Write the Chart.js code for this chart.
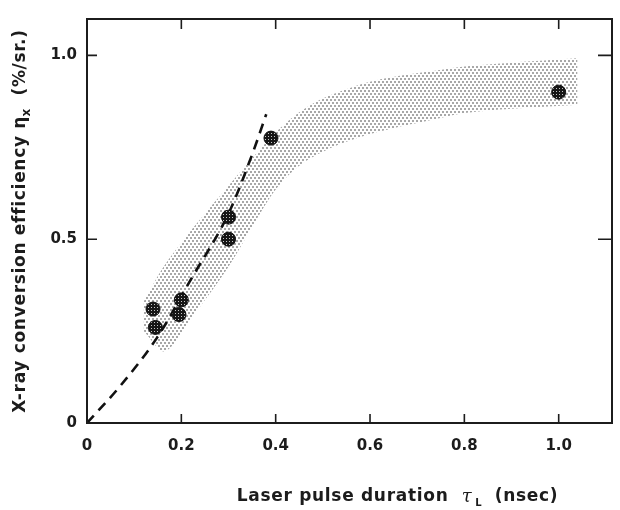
<!DOCTYPE html>
<html>
<head>
<meta charset="utf-8">
<script src="https://cdn.jsdelivr.net/npm/chart.js@4"></script>
<style>
  html, body { margin: 0; padding: 0; background: #fff; }
  #wrap { width: 620px; height: 510px; }
</style>
</head>
<body>
<div id="wrap"><canvas id="chart" width="620" height="510"></canvas></div>
<script>
// tick values and labels
const xTickValues = [0, 0.2, 0.4, 0.6, 0.8, 1.0];
const xTickLabels = ["0", "0.2", "0.4", "0.6", "0.8", "1.0"];
const yTickValues = [0, 0.5, 1.0];
const yTickLabels = ["0", "0.5", "1.0"];

// measured points (nsec, %/sr.)
const pulseDuration = [0.14, 0.145, 0.20, 0.195, 0.30, 0.30, 0.39, 1.0];
const efficiency = [0.31, 0.26, 0.335, 0.295, 0.56, 0.50, 0.775, 0.90];

// dashed curve
const fitX = [0, 0.07, 0.15, 0.22, 0.30, 0.35, 0.38];
const fitY = [0, 0.10, 0.235, 0.39, 0.57, 0.73, 0.84];

// shaded band edges
const bandUpperX = [0.12, 0.16, 0.20, 0.25, 0.30, 0.35, 0.40, 0.45, 0.50, 0.59, 0.66, 0.73, 0.80, 0.90, 1.04];
const bandUpperY = [0.33, 0.42, 0.49, 0.57, 0.645, 0.72, 0.79, 0.845, 0.883, 0.925, 0.944, 0.957, 0.97, 0.98, 0.992];
const bandLowerX = [0.12, 0.165, 0.23, 0.30, 0.36, 0.40, 0.45, 0.52, 0.59, 0.66, 0.73, 0.80, 0.90, 1.04];
const bandLowerY = [0.25, 0.195, 0.30, 0.425, 0.555, 0.635, 0.70, 0.75, 0.782, 0.805, 0.824, 0.843, 0.855, 0.866];

const toXY = (xs, ys) => xs.map((x, i) => ({ x: x, y: ys[i] }));

// stipple pattern for the band
function makeStipple() {
  const c = document.createElement("canvas");
  c.width = 4; c.height = 6;
  const g = c.getContext("2d");
  g.fillStyle = "#3a3a3a";
  g.beginPath(); g.arc(1, 1, 0.8, 0, Math.PI * 2); g.fill();
  g.beginPath(); g.arc(3, 4, 0.8, 0, Math.PI * 2); g.fill();
  return g.createPattern(c, "repeat");
}

// dark dotted fill for the markers
function makeMarkerFill() {
  const c = document.createElement("canvas");
  c.width = 3; c.height = 3;
  const g = c.getContext("2d");
  g.fillStyle = "#161616";
  g.fillRect(0, 0, 3, 3);
  g.fillStyle = "rgba(255,255,255,0.75)";
  g.fillRect(1, 1, 1, 1);
  return g.createPattern(c, "repeat");
}

const ink = "#1c1c1c";
const tickFont = { family: "DejaVu Sans", size: 15, weight: "bold" };

function drawParts(ctx, parts, cx, cy) {
  let total = 0;
  parts.forEach(p => {
    ctx.font = p.font;
    ctx.letterSpacing = p.ls || "0px";
    p.w = ctx.measureText(p.text).width;
    total += p.w;
  });
  let x = cx - total / 2;
  parts.forEach(p => {
    ctx.font = p.font;
    ctx.letterSpacing = p.ls || "0px";
    ctx.fillText(p.text, x, cy + (p.dy || 0));
    x += p.w;
  });
  ctx.letterSpacing = "0px";
}

const frameAndTitles = {
  id: "frameAndTitles",
  afterDraw(chart) {
    const { ctx, chartArea: a, scales } = chart;
    const xs = scales.x, ys = scales.y;
    ctx.save();
    ctx.strokeStyle = ink;
    ctx.lineWidth = 2;
    ctx.strokeRect(a.left, a.top, a.right - a.left, a.bottom - a.top);

    // inward ticks on all four sides
    ctx.lineWidth = 1.6;
    ctx.beginPath();
    xTickValues.filter(v => v > 0).forEach(v => {
      const px = xs.getPixelForValue(v);
      ctx.moveTo(px, a.bottom); ctx.lineTo(px, a.bottom - 9);
      ctx.moveTo(px, a.top); ctx.lineTo(px, a.top + 10);
    });
    yTickValues.filter(v => v > 0).forEach(v => {
      const py = ys.getPixelForValue(v);
      ctx.moveTo(a.left, py); ctx.lineTo(a.left + 10, py);
      ctx.moveTo(a.right, py); ctx.lineTo(a.right - 14, py);
    });
    ctx.stroke();

    // axis titles
    ctx.fillStyle = ink;
    ctx.textBaseline = "middle";
    ctx.textAlign = "left";
    const bold = 'bold 17px "DejaVu Sans"';
    const ls = "0.7px";
    drawParts(ctx, [
      { text: "Laser pulse duration  ", font: bold, ls: ls },
      { text: "τ", font: 'italic 18px "DejaVu Serif"' },
      { text: " L", font: 'bold 10px "DejaVu Sans"', dy: 6 },
      { text: "  (nsec)", font: bold, ls: ls }
    ], (a.left + a.right) / 2 + 48, a.bottom + 74);

    ctx.translate(a.left - 66, (a.top + a.bottom) / 2);
    ctx.rotate(-Math.PI / 2);
    drawParts(ctx, [
      { text: "X-ray conversion efficiency ", font: bold, ls: ls },
      { text: "η", font: bold },
      { text: "x", font: 'bold 12px "DejaVu Sans"', dy: 6 },
      { text: "  (%/sr.)", font: bold, ls: ls }
    ], 0, 0);
    ctx.restore();
  }
};

new Chart(document.getElementById("chart"), {
  type: "scatter",
  data: {
    datasets: [
      {
        label: "measured",
        data: toXY(pulseDuration, efficiency),
        pointRadius: 7,
        pointBackgroundColor: makeMarkerFill(),
        pointBorderColor: "#111",
        pointBorderWidth: 1,
        showLine: false,
        order: 0
      },
      {
        label: "fit",
        data: toXY(fitX, fitY),
        showLine: true,
        borderColor: "#111",
        borderWidth: 2.6,
        borderDash: [10, 7],
        cubicInterpolationMode: "monotone",
        pointRadius: 0,
        order: 1
      },
      {
        label: "band upper",
        data: toXY(bandUpperX, bandUpperY),
        showLine: true,
        borderColor: "transparent",
        borderWidth: 0,
        backgroundColor: makeStipple(),
        fill: "+1",
        tension: 0.3,
        pointRadius: 0,
        order: 2
      },
      {
        label: "band lower",
        data: toXY(bandLowerX, bandLowerY),
        showLine: true,
        borderColor: "transparent",
        borderWidth: 0,
        tension: 0.3,
        pointRadius: 0,
        order: 3
      }
    ]
  },
  options: {
    responsive: false,
    animation: false,
    layout: { padding: { top: 12, right: 1, left: 0, bottom: 0 } },
    plugins: {
      legend: { display: false },
      tooltip: { enabled: false }
    },
    scales: {
      x: {
        type: "linear",
        min: 0,
        max: 1.113,
        grid: { display: false, drawTicks: false },
        border: { display: false },
        afterBuildTicks: s => { s.ticks = xTickValues.map(v => ({ value: v })); },
        afterFit: s => { s.height = 87; },
        ticks: {
          padding: 14,
          color: ink,
          font: tickFont,
          maxRotation: 0,
          callback: (v, i) => xTickLabels[i]
        }
      },
      y: {
        type: "linear",
        min: 0,
        max: 1.099,
        grid: { display: false, drawTicks: false },
        border: { display: false },
        afterBuildTicks: s => { s.ticks = yTickValues.map(v => ({ value: v })); },
        afterFit: s => { s.width = 87; },
        ticks: {
          padding: 10,
          color: ink,
          font: tickFont,
          callback: (v, i) => yTickLabels[i]
        }
      }
    }
  },
  plugins: [frameAndTitles]
});
</script>
</body>
</html>
